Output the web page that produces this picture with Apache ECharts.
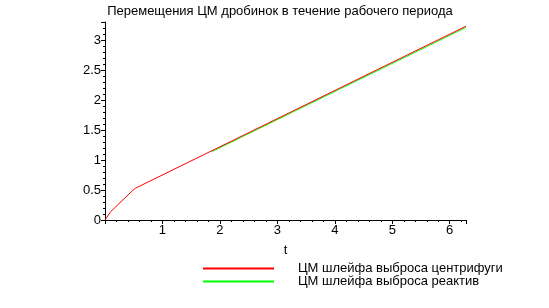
<!DOCTYPE html>
<html><head><meta charset="utf-8">
<script src="https://cdn.jsdelivr.net/npm/echarts@6/dist/echarts.min.js"></script>
<style>html,body{margin:0;padding:0;background:#fff}#c{width:549px;height:308px}</style>
</head><body><div id="c"></div>
<script>
var titleText = 'Перемещения ЦМ дробинок в течение рабочего периода';
var seriesNames = ['ЦМ шлейфа выброса центрифуги', 'ЦМ шлейфа выброса реактив'];
var tRed = [0, 0.1, 0.48, 0.53, 6.283];
var yRed = [0, 0.14, 0.49, 0.53, 3.23];
var tGreen = [1.86, 6.283];
var yGreen = [1.14, 3.21];
var xTicks = [1, 2, 3, 4, 5, 6];
var yTicks = [0, 0.5, 1, 1.5, 2, 2.5, 3];

function pairs(a, b) { return a.map(function (v, i) { return [v, b[i]]; }); }
var font = 'Liberation Sans, Arial, sans-serif';
var chart = echarts.init(document.getElementById('c'));
chart.setOption({
  animation: false,
  title: { text: titleText, left: 275, textAlign: 'center', top: 0,
    textStyle: { fontFamily: font, fontSize: 13, fontWeight: 'normal', color: '#000' } },
  grid: { left: 105, right: 83, top: 22, bottom: 88, containLabel: false },
  legend: {
    orient: 'vertical', left: 203, top: 262, itemGap: 0, padding: 0,
    itemWidth: 71, itemHeight: 2,
    textStyle: { fontFamily: font, fontSize: 13, color: '#000', lineHeight: 10, padding: [0, 0, 0, 19] },
    data: [{ name: seriesNames[0], icon: 'rect' }, { name: seriesNames[1], icon: 'rect' }]
  },
  xAxis: {
    type: 'value', min: 0, max: 6.283, interval: 1,
    name: 't', nameLocation: 'middle', nameGap: 24,
    nameTextStyle: { fontFamily: font, fontSize: 13, color: '#000' },
    axisLine: { onZero: false, lineStyle: { color: '#000', width: 1 } },
    axisTick: { show: true, length: 4, lineStyle: { color: '#000' } },
    minorTick: { show: true, splitNumber: 5, length: 2, lineStyle: { color: '#000' } },
    splitLine: { show: false },
    axisLabel: { fontFamily: font, fontSize: 13, color: '#000', margin: 4,
      showMinLabel: false, showMaxLabel: false,
      formatter: function (v) { return xTicks.indexOf(v) >= 0 ? String(v) : ''; } }
  },
  yAxis: {
    type: 'value', min: 0, max: 3.3, interval: 0.5,
    axisLine: { show: true, onZero: false, lineStyle: { color: '#000', width: 1 } },
    axisTick: { show: true, length: 4, lineStyle: { color: '#000' } },
    minorTick: { show: true, splitNumber: 5, length: 2, lineStyle: { color: '#000' } },
    splitLine: { show: false },
    axisLabel: { fontFamily: font, fontSize: 13, color: '#000', margin: 4, showMaxLabel: false,
      formatter: function (v) { return yTicks.indexOf(v) >= 0 ? String(v) : ''; } }
  },
  series: [
    { name: seriesNames[1], type: 'line', data: pairs(tGreen, yGreen), showSymbol: false,
      lineStyle: { color: '#00ff00', width: 1 }, itemStyle: { color: '#00ff00' }, z: 2 },
    { name: seriesNames[0], type: 'line', data: pairs(tRed, yRed), showSymbol: false,
      lineStyle: { color: '#ff0000', width: 1 }, itemStyle: { color: '#ff0000' }, z: 3 }
  ]
});
</script></body></html>
